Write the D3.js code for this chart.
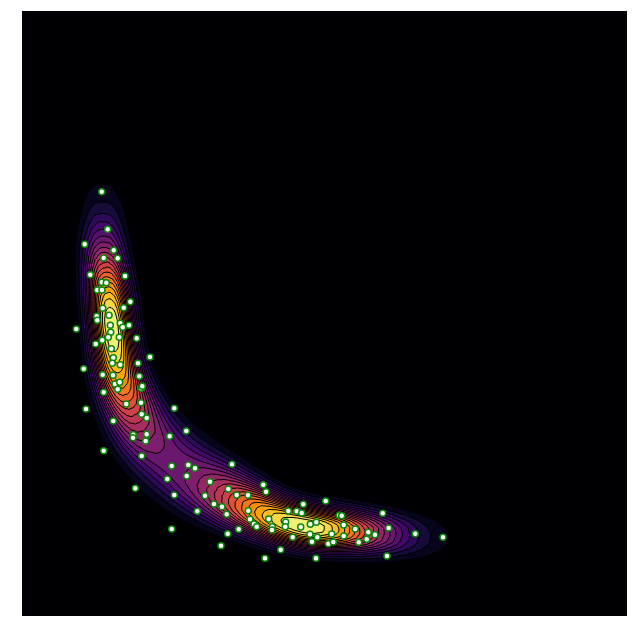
<!DOCTYPE html>
<html><head><meta charset="utf-8">
<script src="https://cdn.jsdelivr.net/npm/d3@7"></script>
<style>html,body{margin:0;padding:0;background:#fff;}svg{display:block;}</style>
</head><body>
<script>
// Sample points (data units: x to the right, y upward, 0..605)
const xs = [79.7,85.7,62.7,91.7,81.7,95.7,68.3,103,79.7,84.3,
  75.3,80,108.3,80.7,101.7,74.7,75.3,87,54.3,88.3,
  98.3,100.7,107,88.7,86.3,97.3,114.7,73.7,80.3,89.3,
  128,91.3,90.3,98.3,116,61.7,80.7,91,117.3,93,
  97.7,95.7,119.3,120.3,81.7,104.3,119,64,152.3,119.7,
  124.7,91.3,164.3,111.3,111,124.7,123.7,147.7,81.7,119.7,
  149.7,166.3,173,164.7,145.3,210,113.3,188,152.3,206.3,
  214.7,226,241.3,244,183,192,200,175.3,204.7,226.3,
  228,232,234.7,216.7,205.7,149.7,199,246.7,250.3,250,
  263.7,263.3,266.3,274.7,279.7,281.3,303.7,278.7,288.3,294.3,
  288,295.3,270.7,290,306.3,311.3,309.7,317.3,319.7,321.7,
  321.7,333.3,336.7,346.3,344.7,353,360.7,366.7,393.3,421,
  365,294,258.7,243];
const ys = [424.3,386.7,371.7,365.7,358,357.7,341.3,340,333.7,333.3,
  326,326,314.3,307.7,308.3,299.7,295.7,300.7,287,290.7,
  292.7,288.7,290.7,283.7,278.7,278.7,277.7,272,275.7,267.3,
  259,258.3,252.7,251.3,252.7,247.3,241.3,240.7,239.7,232,
  233.7,226.7,227.7,229.7,223.7,212,213.3,207,207.7,201.7,
  198,195,185,181.3,178.3,181.7,175,179.7,165.3,160,
  150,151,147.7,140,137,151.7,127.7,134.3,121,127,
  121,120.7,131.3,124.3,120.3,112,109.3,104.7,101.7,105.3,
  96.7,92,89.3,86.7,82.3,87,70.3,97,89.3,86,
  94,89.3,105,104.7,103,111.7,115,89,91.7,93.7,
  81.7,78.7,78.7,74.3,72.3,74,82,100.7,100.3,91,
  80,87,73.7,83.7,76.7,81.3,102.7,88,82.3,78.7,
  60,57.7,66.3,57.7];

// Density ridge (data units)
const ridgeX = [78,80,82,87,90,96,106,122,144,169,194,223,253,283,328,378,423,468];
const ridgeY = [476,426,366,316,286,246,216,186,161,141,126,111,98,90,85,81,78,75];
// Density peaks on the ridge
const peakX = [89, 284];
const peakY = [291, 90];
const peakW = [1.0, 1.0];
const spreadOut = [58, 58];
const spreadIn = [82, 78];
// Cross-ridge width: base, extra width at the bend, bend position, profile exponent
const widthBase = 16, widthBend = 9, bendX = 154, bendY = 150, bendSpread = 60, widthPower = 2.5;

const W = 639, H = 639;
const padL = 22, padT = 11, side = 605;

const svg = d3.select("body").append("svg").attr("width", W).attr("height", H);
const x = d3.scaleLinear().domain([0, 605]).range([padL, padL + side]);
const y = d3.scaleLinear().domain([0, 605]).range([padT + side, padT]);

const n = Math.min(xs.length, ys.length);
const pts = d3.range(n).map(i => [x(xs[i]), y(ys[i])]);

svg.append("rect").attr("x", padL).attr("y", padT).attr("width", side).attr("height", side).attr("fill", "#000004");

// sample ridge curve
const ridgePts = ridgeX.map((v, i) => [x(v), y(ridgeY[i])]);
const tmp = svg.append("path").attr("d", d3.line().curve(d3.curveCatmullRom)(ridgePts)).attr("fill", "none").attr("stroke", "none");
const node = tmp.node();
const L = node.getTotalLength();
const samples = [];
for (let s = 0; s <= L; s += 1.5) { const p = node.getPointAtLength(s); samples.push([p.x, p.y, s]); }
tmp.remove();

function project(px, py) {
  let best = Infinity, bs = 0;
  for (const q of samples) {
    const dx = q[0] - px, dy = q[1] - py, d = dx * dx + dy * dy;
    if (d < best) { best = d; bs = q[2]; }
  }
  return [Math.sqrt(best), bs];
}
const sPeak = peakX.map((v, i) => project(x(v), y(peakY[i]))[1]);
const sBend = project(x(bendX), y(bendY))[1];

function profile(s) {
  let v = 0;
  for (let k = 0; k < sPeak.length; k++) {
    const d = s - sPeak[k];
    const outward = (k === 0) ? d < 0 : d > 0;
    const sg = outward ? spreadOut[k] : spreadIn[k];
    v += peakW[k] * Math.exp(-0.5 * (d / sg) ** 2);
  }
  return v;
}

const cs = 2;
const nx = Math.ceil(side / cs), ny = Math.ceil(side / cs);
const values = new Float64Array(nx * ny);
for (let j = 0; j < ny; j++) {
  for (let i = 0; i < nx; i++) {
    const px = padL + (i + 0.5) * cs, py = padT + (j + 0.5) * cs;
    const [d, s] = project(px, py);
    const sv = widthBase + widthBend * Math.exp(-0.5 * ((s - sBend) / bendSpread) ** 2);
    values[j * nx + i] = profile(s) * Math.exp(-0.5 * Math.pow(d / sv, widthPower));
  }
}
const vmax = d3.max(values);
const thresholds = d3.range(1, 20).map(k => k * 0.05 * vmax);
const contours = d3.contours().size([nx, ny]).thresholds(thresholds)(values);

const color = d3.scaleSequential(d3.interpolateInferno).domain([0, vmax]);
const proj = d3.geoTransform({ point(px, py) { this.stream.point(padL + px * cs, padT + py * cs); } });

svg.append("g").selectAll("path").data(contours).join("path")
  .attr("d", d3.geoPath(proj))
  .attr("fill", d => color(d.value))
  .attr("stroke", "#000")
  .attr("stroke-width", 1)
  .attr("stroke-linejoin", "round");

svg.append("g").selectAll("circle").data(pts).join("circle")
  .attr("cx", d => d[0]).attr("cy", d => d[1]).attr("r", 3)
  .attr("fill", "#fff").attr("stroke", "#0a8a0a").attr("stroke-width", 1.5);
</script>
</body></html>
